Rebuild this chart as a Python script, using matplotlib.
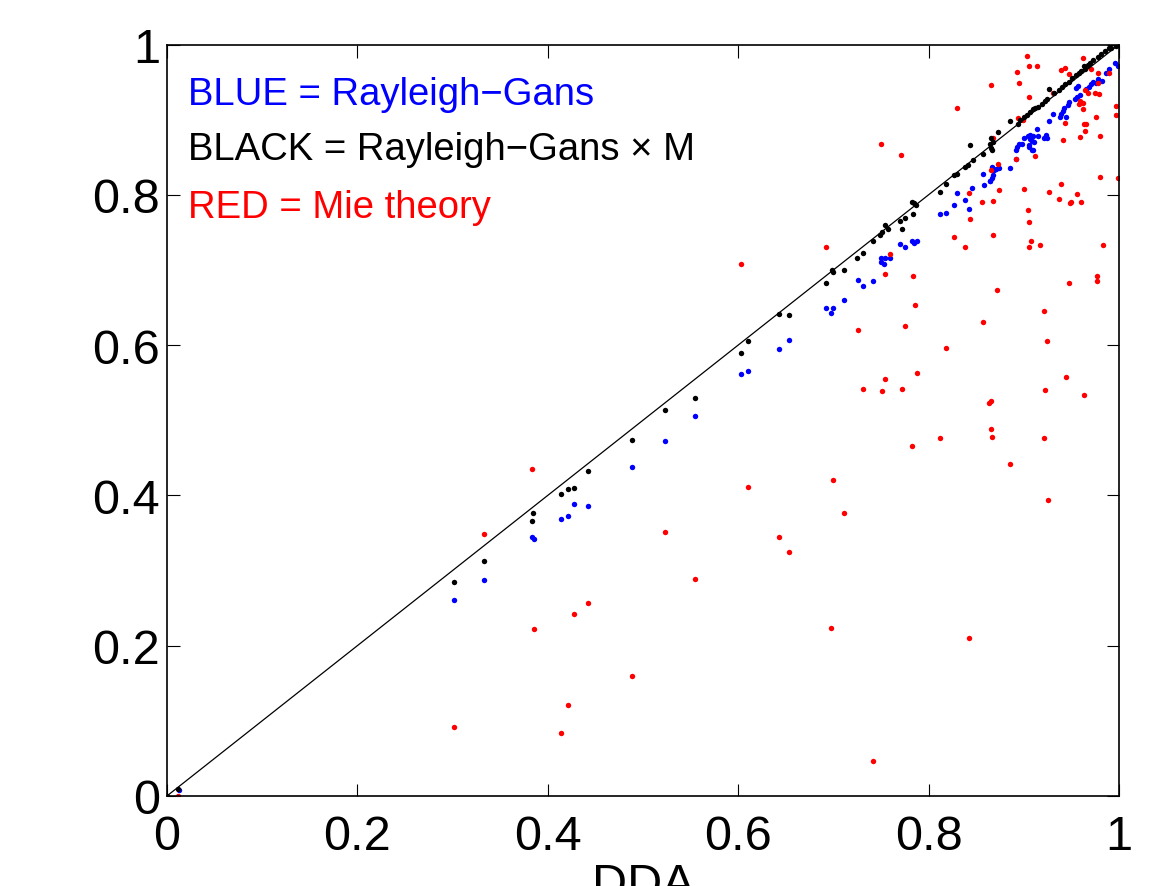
# DDA vs approximate theories scatter (Rayleigh-Gans, RG x M, Mie)
import numpy as np
import matplotlib
matplotlib.use("Agg")
import matplotlib.pyplot as plt

plt.rcParams['font.family'] = ['Liberation Sans', 'DejaVu Sans']

# tick positions / labels
tick_vals = [0, 0.2, 0.4, 0.6, 0.8, 1]
tick_labels = ['0', '0.2', '0.4', '0.6', '0.8', '1']

# Rayleigh-Gans (blue)
blue_x = [0.013, 0.301, 0.333, 0.383, 0.386, 0.414, 0.421, 0.428, 0.442,
          0.488, 0.523, 0.555, 0.603, 0.610, 0.643, 0.653,
          0.692, 0.700, 0.698, 0.711, 0.726, 0.742, 0.731,
          0.750, 0.754, 0.759, 0.750, 0.753,
          0.770, 0.775, 0.783, 0.788, 0.785, 0.812, 0.818,
          0.827, 0.830, 0.838, 0.842, 0.846, 0.857, 0.858,
          0.874, 0.871, 0.869, 0.868, 0.867, 0.865, 0.864, 0.867,
          0.885, 0.892, 0.892, 0.909, 0.910,
          0.900, 0.907, 0.909, 0.911, 0.898, 0.895, 0.893, 0.905, 0.905,
          0.907, 0.904, 0.910, 0.915, 0.923, 0.924, 0.921,
          0.914, 0.927, 0.931, 0.944, 0.938, 0.942, 0.941, 0.939,
          0.948, 0.946, 0.959, 0.956, 0.954, 0.957, 0.955,
          0.971, 0.969, 0.965, 0.978, 0.982, 0.973, 0.976,
          0.986, 0.990, 0.996, 0.999]
blue_y = [0.008, 0.261, 0.287, 0.344, 0.342, 0.368, 0.372, 0.389, 0.386,
          0.438, 0.472, 0.506, 0.562, 0.566, 0.595, 0.607,
          0.650, 0.649, 0.643, 0.660, 0.686, 0.685, 0.678,
          0.716, 0.716, 0.716, 0.710, 0.708,
          0.735, 0.731, 0.739, 0.739, 0.736, 0.774, 0.776,
          0.787, 0.803, 0.793, 0.781, 0.809, 0.828, 0.813,
          0.835, 0.834, 0.833, 0.827, 0.823, 0.819, 0.818, 0.837,
          0.836, 0.848, 0.859, 0.859, 0.860,
          0.875, 0.874, 0.871, 0.870, 0.868, 0.867, 0.863, 0.866, 0.864,
          0.879, 0.878, 0.878, 0.878, 0.880, 0.876, 0.876,
          0.888, 0.898, 0.908, 0.903, 0.903, 0.915, 0.912, 0.908,
          0.924, 0.920, 0.933, 0.930, 0.928, 0.945, 0.942,
          0.947, 0.943, 0.941, 0.954, 0.952, 0.950, 0.949,
          0.962, 0.967, 0.975, 0.972]

# Rayleigh-Gans x M (black)
black_x = [0.0, 0.012, 0.301, 0.333, 0.383, 0.385, 0.414, 0.421, 0.428, 0.442,
           0.488, 0.523, 0.555, 0.603, 0.610, 0.643, 0.653,
           0.692, 0.699, 0.700, 0.711, 0.725, 0.731,
           0.742, 0.749, 0.751, 0.754, 0.757, 0.770, 0.772, 0.775,
           0.783, 0.785, 0.787, 0.784, 0.812, 0.818,
           0.827, 0.830, 0.838, 0.841, 0.847, 0.843, 0.857,
           0.866, 0.868, 0.865, 0.866, 0.867, 0.873, 0.885,
           0.894, 0.896, 0.900, 0.903, 0.907, 0.910, 0.912, 0.915, 0.919,
           0.922, 0.924, 0.926, 0.932, 0.937, 0.940, 0.943, 0.947, 0.951,
           0.955, 0.958, 0.960, 0.964, 0.963, 0.967, 0.970, 0.973, 0.978,
           0.981, 0.985, 0.989, 0.992, 0.997]
black_y = [0.0, 0.009, 0.285, 0.313, 0.366, 0.376, 0.402, 0.409, 0.410, 0.433,
           0.474, 0.513, 0.529, 0.590, 0.605, 0.641, 0.640,
           0.682, 0.700, 0.697, 0.700, 0.716, 0.722,
           0.739, 0.746, 0.750, 0.760, 0.754, 0.765, 0.755, 0.769,
           0.791, 0.789, 0.786, 0.775, 0.804, 0.814,
           0.826, 0.828, 0.837, 0.840, 0.846, 0.866, 0.854,
           0.875, 0.870, 0.867, 0.862, 0.859, 0.883, 0.898,
           0.894, 0.899, 0.903, 0.906, 0.910, 0.914, 0.915, 0.917, 0.921,
           0.925, 0.928, 0.941, 0.936, 0.939, 0.943, 0.947, 0.950, 0.956,
           0.959, 0.962, 0.965, 0.968, 0.971, 0.973, 0.976, 0.980, 0.984,
           0.987, 0.992, 0.995, 0.996, 0.998]

# Mie theory (red)
red_x = [0.012, 0.301, 0.333, 0.383, 0.386, 0.414, 0.421, 0.428, 0.442,
         0.488, 0.523, 0.555, 0.603, 0.610, 0.643, 0.653,
         0.692, 0.698, 0.700, 0.711, 0.726, 0.731, 0.742,
         0.750, 0.751, 0.754, 0.754, 0.759,
         0.771, 0.772, 0.775, 0.783, 0.784, 0.786, 0.788,
         0.812, 0.818, 0.827, 0.830, 0.838, 0.842, 0.842, 0.843,
         0.856, 0.857, 0.863, 0.866, 0.866, 0.866, 0.867, 0.866,
         0.868, 0.868, 0.868, 0.872, 0.873, 0.874,
         0.885, 0.892, 0.893, 0.894, 0.895, 0.899,
         0.900, 0.903, 0.904, 0.906, 0.906, 0.906, 0.906, 0.908,
         0.912, 0.914, 0.917, 0.921, 0.921, 0.922, 0.924, 0.925,
         0.927, 0.931, 0.937, 0.939, 0.939, 0.941, 0.943, 0.943, 0.944,
         0.948, 0.948, 0.949, 0.950, 0.956,
         0.958, 0.959, 0.959, 0.960, 0.962, 0.962, 0.962, 0.963, 0.963,
         0.964, 0.964, 0.965, 0.967, 0.971, 0.975, 0.976, 0.977, 0.977,
         0.978, 0.978, 0.979, 0.980, 0.980, 0.983, 0.989,
         0.997, 0.997, 0.999]
red_y = [0.0, 0.092, 0.348, 0.435, 0.222, 0.084, 0.121, 0.242, 0.257,
         0.160, 0.351, 0.289, 0.708, 0.411, 0.344, 0.325,
         0.731, 0.224, 0.420, 0.377, 0.620, 0.541, 0.047,
         0.867, 0.539, 0.694, 0.555, 0.721,
         0.853, 0.542, 0.626, 0.466, 0.692, 0.654, 0.563,
         0.476, 0.596, 0.744, 0.915, 0.731, 0.803, 0.210, 0.768,
         0.791, 0.631, 0.523, 0.525, 0.946, 0.488, 0.478, 0.833,
         0.792, 0.746, 0.875, 0.673, 0.841, 0.807,
         0.442, 0.848, 0.964, 0.902, 0.949, 0.900,
         0.808, 0.985, 0.780, 0.971, 0.764, 0.930, 0.730, 0.739,
         0.852, 0.971, 0.733, 0.477, 0.646, 0.540, 0.605, 0.394,
         0.804, 0.936, 0.794, 0.814, 0.966, 0.873, 0.969, 0.895, 0.557,
         0.961, 0.682, 0.789, 0.791, 0.801,
         0.921, 0.925, 0.877, 0.791, 0.982, 0.922, 0.914, 0.533, 0.894,
         0.939, 0.885, 0.894, 0.936, 0.968, 0.936, 0.903, 0.692, 0.685,
         0.949, 0.962, 0.934, 0.824, 0.878, 0.733, 0.962,
         0.918, 0.906, 0.822]

fig = plt.figure(figsize=(11.7, 8.87), dpi=100)
ax = fig.add_axes([0.1427, 0.1015, 0.8137, 0.8472])

ms = 3.9
ax.plot(blue_x, blue_y, 'o', color='#0000ff', markersize=ms, markeredgewidth=0)
ax.plot(red_x, red_y, 'o', color='#ff0000', markersize=ms, markeredgewidth=0)
ax.plot(black_x, black_y, 'o', color='black', markersize=ms, markeredgewidth=0)
# 1:1 line
ax.plot([0, 1], [0, 1], color='black', linewidth=0.9)

ax.set_xlim(0, 1)
ax.set_ylim(0, 1)
ax.set_xticks(tick_vals)
ax.set_xticklabels(tick_labels)
ax.set_yticks(tick_vals)
ax.set_yticklabels(tick_labels)
ax.tick_params(direction='in', length=9, width=0.8, labelsize=35,
               top=True, right=True)
ax.tick_params(axis='x', pad=13)
ax.tick_params(axis='y', pad=5)
for sp in ax.spines.values():
    sp.set_linewidth(1.2)
ax.set_xlabel('DDA', fontsize=35, labelpad=2)

# key text in the corner
ax.text(0.022, 0.921, 'BLUE = Rayleigh\u2212Gans', color='#0000ff', fontsize=27.5)
ax.text(0.022, 0.848, 'BLACK = Rayleigh\u2212Gans \u00d7 M', color='black', fontsize=27.5)
ax.text(0.022, 0.771, 'RED = Mie theory', color='#ff0000', fontsize=27.5)

plt.savefig('out.png', dpi=100)
